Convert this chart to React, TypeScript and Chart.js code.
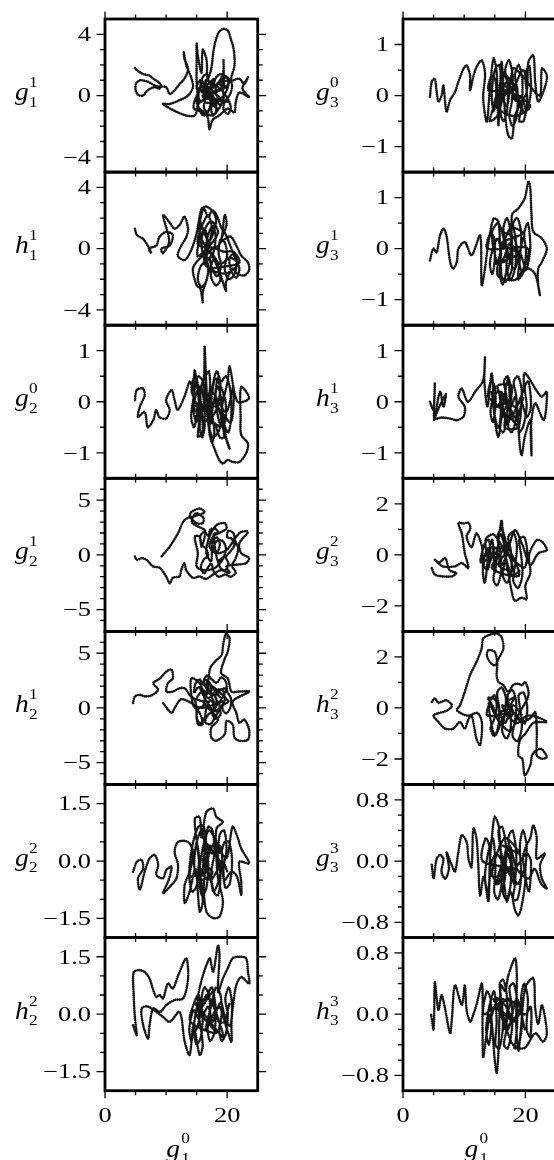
import { useEffect, useRef } from "react";
import { Chart, registerables } from "chart.js";
Chart.register(...registerables);

type P = [number, number];

// x: g_1^0 (shared axis), y: the coefficient of each panel
const g11: P[] = [[4.9,1.8],[5.4,1.6],[6.3,1.4],[7.3,1.3],[7.9,1.1],[8.7,0.9],[9.2,0.65],[8.9,0.45],[8.1,0.55],[7.0,0.35],[6.2,0.0],[5.4,0.05],[5.0,0.4],[5.1,0.8],[5.8,1.0],[7.0,0.9],[8.5,0.6],[10.0,0.55],[10.6,0.1],[11.4,0.35],[12.2,0.75],[13.0,1.1],[13.6,1.75],[13.0,2.4],[12.9,2.85],[13.3,2.0],[14.1,1.2],[14.4,0.55],[13.6,0.0],[12.2,-0.3],[10.6,-0.55],[9.5,-0.55],[11.4,-1.0],[13.3,-1.3],[14.7,-1.3],[15.2,-0.45],[15.0,0.9],[15.0,2.2],[15.0,3.4],[15.2,2.6],[15.8,1.5],[16.0,3.0],[16.6,2.4],[16.8,1.1],[17.4,1.75],[17.8,3.0],[18.5,4.05],[19.3,4.35],[20.1,4.25],[20.6,3.7],[21.0,3.15],[21.2,2.5],[21.2,1.95],[20.9,1.5],[20.4,0.9],[19.6,0.5],[19.4,2.3],[19.3,1.4],[18.0,0.6],[15.8,0.2],[17.9,1.1],[16.3,-0.4],[19.0,-0.3],[15.6,0.9],[18.4,-0.9],[17.0,0.0],[20.0,0.6],[15.2,-0.6],[17.6,-1.3],[19.5,0.1],[16.5,1.0],[18.0,-0.2],[20.3,-0.4],[16.0,-0.1],[17.5,0.5],[19.0,0.9],[21.0,1.0],[22.0,1.1],[22.8,0.75],[23.4,1.2],[22.5,0.45],[23.6,-0.1],[22.0,0.2],[21.4,-0.45],[21.2,-1.1],[20.1,-0.85],[18.7,-1.3],[17.6,-1.6],[17.1,-2.2],[16.8,-1.4],[16.0,-1.1],[14.5,-0.8],[15.5,0.3],[17.2,0.3]];
const g11Dense: P[] = [[15.0,0.5],[15.6,1.0],[16.3,0.8],[16.4,0.1],[15.8,-0.4],[15.3,-0.1],[15.6,0.5],[16.4,0.6],[17.1,0.2],[17.3,-0.6],[16.8,-1.1],[16.2,-0.8],[16.5,-0.2],[17.3,0.1],[18.0,-0.3],[18.2,-1.0],[17.7,-1.3],[17.4,-0.8],[18.0,-0.4],[18.9,-0.6],[19.4,-0.1],[19.1,0.6],[18.4,0.8],[18.1,0.2],[18.7,-0.2],[19.6,0.1],[20.2,0.7],[19.9,1.2],[19.2,1.0],[19.3,0.3],[20.1,-0.2],[20.6,-0.8],[20.1,-1.2],[19.4,-0.9],[19.6,-0.4],[20.5,0.1],[20.8,0.7],[20.3,1.1],[19.0,1.4],[18.2,1.2],[17.6,0.6],[17.0,0.9],[16.7,1.4],[16.0,1.2],[15.5,0.4],[15.0,-0.3],[15.4,-0.9],[16.1,-1.3],[16.9,-1.0],[17.5,-0.2],[16.9,0.4],[16.2,0.2]];

const h11: P[] = [[4.9,1.3],[5.2,0.9],[6.2,0.65],[7.0,0.2],[7.6,-0.3],[7.2,0.0],[8.4,0.2],[8.9,0.75],[10.0,1.1],[11.1,0.9],[10.6,0.2],[9.2,0.0],[9.5,-0.3],[10.5,0.5],[9.5,2.2],[10.6,1.7],[11.4,1.3],[12.3,1.6],[13.0,2.1],[13.6,1.3],[13.3,0.75],[12.5,0.2],[11.9,-0.45],[13.0,-0.75],[14.0,-0.2],[15.0,1.0],[15.8,2.6],[16.6,2.75],[17.7,2.4],[18.2,1.75],[17.0,0.5],[15.5,1.8],[16.2,-0.5],[17.5,1.2],[16.8,2.2],[15.2,0.3],[18.6,0.2],[19.6,2.2],[19.9,1.55],[19.0,0.5],[20.5,0.8],[21.5,0.2],[22.3,-0.45],[23.4,-0.9],[23.6,-1.4],[22.8,-1.75],[21.7,-1.65],[20.9,-1.3],[19.8,-2.2],[19.8,-2.75],[19.0,-1.8],[18.0,-0.6],[17.0,-1.5],[16.5,-2.2],[16.0,-2.85],[16.0,-3.5],[15.6,-2.6],[15.0,-2.4],[14.4,-1.3],[15.5,-0.65],[17.2,-0.2],[18.8,-1.0],[20.5,-0.6],[21.8,-1.0],[20.0,-1.6],[18.0,-1.5],[16.2,-0.9],[17.6,0.0],[19.5,-0.2],[21.0,-0.2],[22.0,-0.9],[19.0,-1.2],[16.8,-1.2],[15.8,0.6],[17.3,1.8],[18.5,1.0]];
const h11Dense: P[] = [[15.2,-0.5],[15.6,0.8],[16.4,1.2],[16.8,0.3],[16.3,-0.8],[15.6,-1.2],[15.2,-2.0],[15.8,-2.5],[16.6,-2.1],[16.9,-1.2],[16.4,-0.2],[16.9,0.9],[17.6,1.5],[18.1,0.9],[17.8,-0.2],[17.2,-0.6],[17.6,-1.4],[18.4,-1.8],[19.0,-1.1],[18.6,-0.3],[18.9,0.6],[19.6,0.4],[20.0,-0.4],[19.6,-1.3],[20.2,-2.0],[21.0,-1.8],[21.6,-1.0],[21.2,-0.3],[20.4,-0.6],[20.6,-1.4],[21.5,-1.9],[22.0,-1.3],[21.4,-0.7],[20.6,0.1],[19.8,0.9],[19.0,1.4],[18.4,2.1],[17.6,2.5],[16.9,2.1],[16.2,2.6],[15.6,1.9],[15.5,1.0],[16.1,0.4],[17.1,-0.2],[18.1,-0.9],[18.9,-2.0],[18.2,-2.4],[17.4,-1.9],[17.3,-0.9],[16.6,-0.5]];

const g20: P[] = [[4.9,0.03],[5.2,0.23],[6.2,0.26],[6.5,0.13],[5.7,-0.1],[5.4,-0.3],[6.5,-0.2],[7.0,-0.5],[7.9,-0.36],[8.4,-0.16],[8.9,-0.3],[10.0,-0.33],[10.6,-0.16],[10.0,0.03],[10.9,0.23],[11.4,0.03],[11.9,-0.16],[13.0,0.1],[13.9,0.4],[14.4,0.23],[14.7,0.62],[15.5,-0.23],[15.2,-0.69],[16.0,-0.56],[15.6,0.2],[16.2,0.5],[16.3,1.08],[16.5,0.6],[16.6,0.3],[17.1,-0.62],[17.9,-0.91],[18.7,-1.14],[19.3,-1.21],[20.1,-1.14],[20.9,-1.18],[22.0,-1.18],[23.1,-1.01],[23.4,-0.82],[22.3,-0.65],[22.2,-0.36],[22.3,0.29],[23.6,0.07],[21.7,0.0],[20.4,0.69],[20.1,0.42],[19.0,-0.3],[20.4,-0.92],[19.9,-0.75],[18.5,0.3],[17.2,-0.4],[18.0,0.45],[19.4,0.1],[16.8,-0.1],[17.6,-0.7],[18.8,-0.5],[15.8,-0.3],[17.4,0.2],[19.8,-0.2],[21.0,0.3],[20.6,-0.4],[18.2,-0.1],[14.6,-0.1],[16.4,-0.4]];
const g20Dense: P[] = [[14.2,0.2],[14.7,0.5],[15.3,0.3],[15.4,-0.1],[15.0,-0.4],[14.5,-0.2],[14.8,0.1],[15.6,0.3],[16.2,0.0],[16.3,-0.5],[15.9,-0.7],[15.5,-0.5],[15.9,-0.2],[16.7,-0.1],[17.2,0.3],[17.0,0.6],[16.5,0.5],[16.6,0.1],[17.4,-0.2],[17.9,-0.6],[17.5,-0.8],[17.1,-0.5],[17.6,-0.3],[18.4,-0.1],[18.9,0.3],[18.6,0.5],[18.1,0.2],[18.5,-0.3],[19.2,-0.5],[19.8,-0.3],[19.6,0.1],[19.1,0.0],[19.4,-0.4],[20.2,-0.6],[20.7,-0.2],[20.4,0.3],[19.8,0.5],[19.0,0.4],[18.3,0.6],[17.6,0.3],[16.9,-0.3],[16.2,-0.4],[15.4,0.0],[14.6,-0.5],[14.1,-0.3],[14.4,0.0],[15.2,0.5],[16.0,0.4],[16.6,-0.2],[17.8,0.0],[18.8,-0.2],[19.5,-0.7],[18.8,-0.7],[18.0,-0.4]];

const g21: P[] = [[4.9,-0.15],[5.2,-0.45],[6.0,-0.3],[6.8,-0.45],[7.3,-0.75],[7.9,-1.06],[9.0,-1.2],[10.0,-1.97],[10.6,-2.6],[11.1,-2.1],[12.2,-1.97],[12.5,-1.36],[13.0,-0.76],[13.3,-1.4],[14.4,-2.1],[15.5,-1.97],[16.5,-2.2],[17.7,-1.8],[19.0,-1.4],[20.4,-1.67],[19.9,-1.06],[21.5,-0.9],[23.1,-0.76],[23.6,-0.3],[22.3,0.15],[22.0,1.06],[23.4,2.1],[22.3,2.1],[21.5,1.67],[19.9,0.45],[18.2,0.15],[17.1,0.76],[17.7,1.67],[18.7,2.0],[19.9,2.4],[19.6,2.9],[18.2,2.7],[17.0,1.5],[16.6,0.15],[17.4,-0.6]];
const g21Dense: P[] = [[17.6,1.2],[18.3,1.6],[18.8,1.0],[18.4,0.3],[17.8,0.6],[18.2,1.2],[19.2,1.3],[19.8,0.6],[19.4,-0.2],[18.7,-0.5],[18.9,-1.2],[19.7,-1.4],[20.2,-0.8],[19.8,-0.2],[20.5,0.3],[21.2,0.9],[20.7,1.5],[20.0,1.6],[20.2,2.2],[21.0,2.0],[21.3,1.3],[21.8,0.6],[21.4,-0.3],[20.8,-1.0],[21.4,-1.6],[20.6,-2.0],[19.7,-1.8],[18.6,-2.0],[17.8,-1.5],[17.4,-0.8],[16.8,-1.2],[16.2,-1.7],[15.7,-1.1],[16.2,-0.4],[16.9,-0.1],[16.5,0.6],[15.8,0.9],[15.6,1.7],[16.3,2.1],[17.0,1.7],[17.2,2.3],[18.0,2.4],[18.6,2.0],[17.8,1.9]];
const g21Tail: P[] = [[18.6,-0.8],[19.5,-0.2],[18.0,-1.2],[16.0,-1.4],[15.0,-1.06],[15.2,0.15],[14.7,1.67],[15.5,1.67],[15.8,0.76],[16.4,2.2],[15.2,2.6],[14.2,3.0],[14.9,3.8],[16.1,3.4],[16.0,2.9],[15.0,2.9],[13.9,3.5],[14.1,3.9],[15.5,4.24],[16.3,3.9],[15.0,3.6],[13.05,3.2],[11.95,1.97],[10.6,0.76],[9.25,-0.15]];

const h21: P[] = [[4.6,0.45],[4.9,1.06],[5.7,1.2],[6.5,1.06],[7.6,1.15],[8.7,1.67],[7.9,2.27],[9.0,2.7],[10.05,3.33],[10.9,3.5],[11.1,2.7],[10.3,2.27],[10.05,1.5],[11.1,1.5],[12.2,1.8],[13.05,1.8],[13.85,1.2],[14.7,0.76],[14.95,-0.15],[15.2,-1.5],[16.0,-1.5],[15.5,-0.45],[14.4,0.3],[14.1,2.7],[15.5,2.27],[16.5,1.0],[17.2,3.6],[18.0,4.24],[19.1,4.85],[19.3,5.6],[19.6,6.5],[19.8,6.8],[20.4,6.4],[20.1,5.15],[19.6,4.5],[19.0,3.2],[20.1,2.7],[20.7,1.5],[22.0,1.5],[23.6,1.5],[20.9,0.6],[21.5,-0.45],[22.0,-1.36],[22.8,-1.06],[23.6,-2.0],[23.4,-2.9],[22.0,-3.0],[21.2,-2.7],[20.9,-1.5],[19.9,-1.2],[19.6,-2.4],[18.2,-3.0],[17.4,-2.7],[17.4,-1.8],[18.5,-1.06],[16.85,0.0],[16.0,0.6]];
const h21Dense: P[] = [[15.0,0.8],[15.7,1.4],[16.3,1.0],[16.1,0.2],[15.4,0.0],[15.0,-0.9],[15.6,-1.4],[16.3,-0.9],[16.6,0.0],[17.2,0.7],[17.8,0.3],[17.6,-0.6],[18.2,-1.0],[18.9,-0.6],[18.7,0.3],[18.1,1.0],[18.6,1.7],[19.4,1.5],[19.6,0.7],[19.2,0.0],[19.8,-0.5],[20.5,0.0],[20.6,0.9],[20.0,1.5],[19.8,2.4],[19.0,2.8],[18.3,2.3],[17.5,2.6],[16.8,3.0],[16.2,2.5],[16.6,1.8],[17.4,1.5],[17.1,2.2],[16.2,2.1],[15.5,2.6],[14.8,2.2],[14.6,1.4],[15.3,1.9],[16.0,1.5],[16.9,0.9],[17.8,1.2],[18.3,0.4],[17.7,-0.3],[16.9,-0.6],[16.4,-1.3],[17.2,-1.5],[17.9,-1.0],[18.6,-0.3],[19.4,0.3],[20.2,0.6]];
const h21Tail: P[] = [[17.5,2.0],[18.8,1.0],[16.6,2.6],[18.2,0.3],[19.8,1.8],[17.2,1.3],[15.6,1.8],[17.9,-0.3],[19.5,0.6],[15.8,0.0],[14.0,0.5],[12.5,0.8],[11.5,0.1],[10.9,-0.45],[9.5,0.45]];

const g22: P[] = [[4.6,-0.28],[5.2,-0.02],[6.0,0.03],[6.25,-0.19],[5.4,-0.45],[5.7,-0.75],[6.5,-0.28],[7.3,0.07],[8.15,0.16],[8.7,-0.1],[8.4,-0.36],[9.5,-0.45],[10.05,-0.23],[10.9,-0.15],[10.4,-0.5],[9.5,-0.84],[10.9,-0.62],[11.7,-0.45],[11.95,-0.1],[11.4,0.24],[11.95,0.5],[13.6,0.5],[14.4,0.24],[13.8,-0.3],[13.05,-0.62],[13.05,-1.1],[13.85,-0.8],[14.8,-0.2],[15.5,-1.32],[16.0,-1.06],[15.2,0.3],[14.7,1.11],[15.5,1.15],[15.8,0.6],[16.6,1.28],[17.7,1.37],[18.25,1.15],[19.3,1.02],[18.25,0.85],[18.25,0.07],[18.5,-0.45],[19.3,-1.06],[18.75,-1.45],[17.7,-1.49],[16.6,-1.32],[16.2,-0.6],[17.2,0.4],[16.0,0.0],[17.6,-0.3],[15.4,-0.5],[17.0,0.8],[19.8,0.07],[20.9,0.9],[21.75,0.6],[22.3,0.33],[23.6,-0.06],[22.0,-0.02],[22.3,-0.54],[22.3,-0.88],[21.6,-0.4],[20.7,-0.28],[19.5,-0.5],[18.9,0.4],[17.5,0.2],[16.4,0.5],[19.0,-0.1],[17.8,-0.8],[16.8,-0.3]];
const g22Dense: P[] = [[14.0,-0.4],[14.5,0.1],[15.1,0.4],[15.4,0.0],[15.0,-0.4],[14.6,-0.1],[15.0,0.5],[15.8,0.8],[16.3,0.4],[16.0,-0.2],[15.5,-0.6],[15.9,-0.9],[16.6,-0.7],[16.9,-0.1],[16.5,0.5],[16.9,0.9],[17.6,0.8],[17.9,0.2],[17.4,-0.3],[17.8,-0.8],[18.5,-0.9],[18.9,-0.4],[18.5,0.1],[18.8,0.7],[19.5,0.8],[19.9,0.3],[19.4,-0.2],[19.7,-0.7],[20.4,-0.6],[20.8,0.0],[20.3,0.5],[19.6,0.5],[18.9,0.2],[18.1,0.5],[17.3,0.3],[16.6,0.1],[16.2,-0.4],[15.6,-0.2],[14.9,-0.7],[14.2,-0.8],[13.8,-0.3],[14.3,0.4],[15.3,0.9],[16.2,0.9],[17.2,-0.5],[18.2,-0.3],[19.2,0.0],[20.1,-0.3]];

const h22: P[] = [[4.6,-0.29],[5.2,-0.55],[4.9,-0.1],[4.7,0.5],[4.7,1.1],[5.7,1.15],[6.5,1.1],[7.3,0.93],[7.9,0.63],[8.4,0.45],[8.95,0.5],[9.5,0.41],[10.3,0.8],[11.1,0.67],[12.0,1.02],[13.3,1.46],[13.6,0.93],[12.8,0.41],[11.4,0.37],[10.05,0.24],[9.0,0.06],[7.9,0.15],[7.3,-0.29],[7.05,-0.64],[6.25,-0.29],[6.0,0.15],[7.0,0.2],[9.5,-0.07],[10.6,-0.2],[12.2,0.06],[13.05,-0.72],[13.85,-1.07],[14.5,-0.3],[15.5,-1.07],[16.0,-0.81],[15.2,0.4],[17.1,1.46],[17.7,1.1],[18.5,1.8],[18.75,1.54],[18.5,0.58],[19.3,0.93],[20.1,1.2],[20.9,1.46],[22.0,1.5],[23.1,1.46],[23.4,1.1],[23.6,0.8],[22.3,0.97],[21.5,0.76],[20.9,0.15],[20.7,-0.29],[20.7,-0.72],[19.8,-0.3],[18.6,0.2],[16.5,-0.4],[17.8,0.6],[15.5,0.1],[16.8,0.5],[19.4,-0.6],[17.2,-0.2],[14.8,0.3],[16.2,-0.1],[18.2,-0.5]];
const h22Dense: P[] = [[14.0,-0.2],[14.6,0.3],[15.3,0.5],[15.6,0.1],[15.2,-0.3],[14.7,-0.5],[15.0,-0.8],[15.7,-0.6],[16.0,-0.1],[15.8,0.4],[16.3,0.7],[17.0,0.5],[17.2,0.0],[16.8,-0.4],[17.2,-0.7],[17.9,-0.5],[18.1,0.0],[17.7,0.4],[18.2,0.7],[18.9,0.5],[19.1,0.0],[18.7,-0.4],[19.1,-0.7],[19.8,-0.5],[20.1,0.0],[19.7,0.4],[20.3,0.7],[20.8,0.2],[20.5,-0.3],[19.8,-0.2],[19.0,0.3],[18.3,0.1],[17.6,-0.2],[16.9,0.2],[16.1,0.0],[15.3,-0.1],[14.5,0.1],[13.8,-0.4],[14.2,-0.7],[15.1,0.2],[16.4,0.4],[17.5,0.7],[18.6,-0.2],[19.5,-0.2],[20.4,0.3]];

const g30: P[] = [[4.4,-0.03],[4.7,0.27],[5.2,0.33],[5.5,0.07],[5.8,-0.12],[6.3,0.0],[6.6,0.2],[7.1,-0.32],[7.7,-0.09],[8.5,0.07],[9.05,0.27],[9.9,0.53],[10.4,0.59],[10.95,0.4],[10.95,0.1],[11.8,0.5],[12.85,0.69],[13.4,0.43],[13.1,-0.06],[13.7,-0.52],[14.2,0.14],[14.8,0.73],[15.3,0.46],[15.6,-0.58],[16.1,0.66],[16.7,-0.39],[17.2,-0.78],[17.8,-0.84],[18.3,-0.39],[19.1,-0.19],[20.2,0.07],[20.5,0.66],[21.3,0.79],[21.6,0.27],[22.1,-0.12],[23.2,0.17],[23.5,0.4],[22.7,0.53],[22.3,0.0],[19.4,0.4],[18.0,0.53],[17.0,-0.2],[15.8,0.2],[18.6,0.1],[16.4,0.45],[19.6,-0.3],[17.4,0.3],[15.2,-0.2],[18.2,-0.4],[20.8,-0.2],[16.8,0.1]];
const g30Dense: P[] = [[14.0,0.1],[14.5,0.4],[15.1,0.3],[15.2,-0.1],[14.8,-0.3],[14.5,0.0],[15.0,0.5],[15.7,0.6],[16.1,0.2],[15.9,-0.3],[16.4,-0.5],[17.0,-0.3],[17.1,0.2],[16.7,0.5],[17.3,0.7],[17.9,0.4],[17.8,-0.1],[17.4,-0.4],[17.9,-0.6],[18.6,-0.4],[18.7,0.1],[18.3,0.4],[18.9,0.6],[19.5,0.3],[19.4,-0.2],[19.0,-0.5],[19.7,-0.5],[20.3,-0.1],[20.0,0.4],[20.6,0.6],[20.9,0.1],[20.2,-0.3],[19.3,0.0],[18.4,-0.1],[17.5,0.1],[16.5,0.0],[15.6,0.1],[14.6,-0.3],[14.2,-0.5],[15.4,-0.4],[16.8,0.1],[18.2,0.2],[19.6,0.5],[20.5,0.2]];

const g31: P[] = [[4.4,-0.23],[4.95,0.0],[5.5,-0.07],[6.05,0.26],[6.6,0.39],[7.1,0.26],[7.7,-0.26],[8.2,-0.39],[8.8,-0.26],[9.05,0.0],[10.1,0.13],[11.2,-0.13],[12.6,0.26],[12.85,-0.72],[13.4,-0.39],[13.9,0.07],[14.8,0.59],[15.6,0.53],[16.1,-0.53],[16.7,-0.66],[17.8,-0.39],[17.8,0.66],[18.85,0.79],[19.9,0.99],[20.5,1.32],[20.8,1.18],[21.0,0.66],[21.3,0.33],[22.7,0.2],[23.5,0.0],[22.7,-0.26],[22.1,-0.39],[22.1,-0.72],[22.4,-0.92],[21.6,-0.5],[20.5,-0.39],[19.4,-0.46],[18.2,0.2],[16.4,0.3],[17.2,-0.2],[15.0,-0.3],[18.8,-0.1],[16.0,0.1],[19.6,0.3],[17.5,0.4],[15.4,-0.5],[18.5,-0.6],[20.4,0.0]];
const g31Dense: P[] = [[13.8,0.0],[14.3,0.3],[14.9,0.2],[15.0,-0.2],[14.6,-0.5],[14.2,-0.3],[14.7,0.0],[15.5,0.2],[16.0,-0.1],[15.8,-0.5],[16.3,-0.7],[16.9,-0.4],[16.8,0.1],[16.4,0.4],[17.0,0.6],[17.6,0.3],[17.5,-0.2],[17.1,-0.5],[17.7,-0.6],[18.4,-0.3],[18.4,0.2],[18.0,0.5],[18.7,0.6],[19.3,0.3],[19.1,-0.2],[18.8,-0.6],[19.5,-0.5],[20.1,-0.1],[19.8,0.3],[20.4,0.5],[20.8,0.0],[20.1,-0.4],[19.2,-0.1],[18.3,0.0],[17.4,0.1],[16.4,-0.2],[15.5,-0.3],[14.5,0.3],[15.6,0.5],[16.9,0.0],[18.2,-0.4],[19.6,0.2]];

const h31: P[] = [[4.4,0.0],[5.0,-0.16],[5.2,0.36],[5.1,-0.36],[6.05,0.2],[6.6,-0.1],[7.0,0.15],[5.2,-0.33],[6.3,-0.31],[7.7,-0.33],[8.8,-0.36],[9.9,-0.29],[10.1,-0.1],[9.05,0.1],[9.6,0.26],[10.6,0.0],[11.8,0.2],[13.1,0.42],[13.4,0.88],[13.3,0.4],[13.8,-0.1],[14.5,0.56],[15.0,-0.36],[15.6,-0.69],[16.2,-0.2],[17.2,0.46],[17.6,-0.1],[18.4,0.1],[19.1,-0.88],[19.4,-1.05],[19.9,-0.69],[20.8,-0.36],[21.0,-1.05],[20.9,-0.5],[21.6,-0.03],[23.0,-0.36],[23.5,0.2],[22.6,0.1],[19.9,0.56],[19.6,0.2],[17.0,-0.4],[16.0,0.2],[18.2,-0.3],[15.4,0.3],[17.8,0.3],[16.6,-0.5],[18.8,-0.5],[14.8,0.0]];
const h31Dense: P[] = [[13.9,0.1],[14.4,0.4],[15.0,0.3],[15.1,-0.1],[14.7,-0.4],[14.3,-0.2],[14.8,0.1],[15.6,0.2],[16.0,-0.2],[15.8,-0.5],[16.4,-0.6],[17.0,-0.3],[16.9,0.1],[16.5,0.4],[17.1,0.5],[17.7,0.2],[17.5,-0.2],[17.2,-0.5],[17.8,-0.6],[18.5,-0.3],[18.5,0.1],[18.1,0.4],[18.8,0.5],[19.4,0.2],[19.2,-0.3],[18.9,-0.6],[19.6,-0.5],[20.2,-0.1],[19.9,0.3],[20.5,0.4],[20.9,-0.1],[20.2,-0.3],[19.3,0.0],[18.3,-0.1],[17.4,0.0],[16.4,0.1],[15.4,-0.1],[14.5,0.2],[15.5,-0.5],[16.9,-0.1],[18.3,-0.4],[19.7,0.1]];

const g32: P[] = [[4.7,-0.52],[5.2,-0.77],[6.3,-0.84],[8.0,-0.84],[8.7,-0.71],[7.6,-0.6],[6.9,-0.13],[5.9,-0.3],[5.2,-0.19],[6.5,-0.45],[8.5,-0.45],[9.6,-0.32],[10.7,-0.52],[10.1,0.06],[9.6,0.84],[9.05,1.25],[9.9,1.23],[10.7,1.25],[11.0,1.03],[10.4,0.71],[11.2,0.3],[12.0,0.84],[12.9,0.32],[13.1,-0.84],[13.4,-1.1],[14.0,0.1],[14.6,0.6],[15.0,-0.71],[15.5,0.3],[16.1,1.35],[16.4,0.6],[16.8,-0.2],[17.2,-0.71],[17.8,-1.48],[18.3,-1.8],[19.4,-1.68],[20.2,-1.74],[20.0,-1.2],[20.8,-0.71],[20.6,0.0],[21.85,0.58],[22.7,0.52],[23.5,0.19],[22.1,0.06],[20.8,-0.4],[19.5,0.4],[18.3,0.97],[17.1,0.2],[15.6,-0.4],[18.0,-0.6],[16.0,0.8],[19.0,-0.8],[14.5,-0.5],[17.5,0.5]];
const g32Dense: P[] = [[12.8,-0.3],[13.3,0.4],[14.0,0.6],[14.3,0.0],[13.8,-0.6],[13.2,-0.4],[13.7,0.2],[14.6,0.3],[15.1,-0.3],[14.8,-1.0],[15.4,-1.2],[16.0,-0.7],[15.9,0.1],[15.4,0.7],[16.1,1.0],[16.8,0.5],[16.7,-0.2],[16.3,-0.8],[17.0,-1.1],[17.7,-0.6],[17.6,0.2],[17.2,0.7],[18.0,0.9],[18.6,0.4],[18.4,-0.3],[18.0,-1.0],[18.8,-1.3],[19.5,-0.8],[19.3,0.0],[19.0,0.6],[19.8,0.7],[20.3,0.1],[19.9,-0.5],[19.0,-0.4],[18.0,-0.2],[17.1,0.0],[16.1,-0.4],[15.1,0.3],[14.1,-0.3],[13.5,0.6],[14.8,0.8],[16.4,0.2],[17.8,-0.8],[19.2,-0.6]];

const h32: P[] = [[4.7,0.24],[5.2,0.37],[5.8,0.2],[6.3,0.24],[7.1,0.3],[8.0,0.1],[7.2,-0.1],[5.0,-0.29],[5.8,-0.55],[6.9,-0.81],[8.2,-0.81],[9.3,-0.55],[10.1,-0.81],[10.6,-0.5],[11.2,-0.29],[12.0,-1.2],[12.6,-1.46],[12.9,-0.6],[12.2,-0.2],[10.5,-0.3],[8.8,-0.09],[9.3,0.1],[10.1,0.63],[10.95,1.28],[12.0,1.8],[12.85,2.33],[13.1,2.72],[13.95,2.85],[15.3,2.92],[16.1,2.78],[16.4,2.33],[15.6,1.93],[15.0,1.67],[14.2,1.8],[13.7,2.07],[13.95,2.26],[15.0,2.2],[15.4,1.7],[15.3,1.28],[15.6,1.02],[16.4,0.89],[17.2,0.63],[18.0,0.9],[18.85,0.95],[19.4,0.89],[20.0,1.02],[20.5,0.5],[19.0,-0.2],[17.5,-0.9],[15.6,-0.5],[14.0,0.2],[15.0,-1.07],[16.5,-0.3],[18.2,0.4],[17.0,0.2],[19.5,-0.5],[20.8,-0.4],[21.6,-0.16],[21.85,-0.81],[21.85,-1.46],[21.85,-1.86],[22.7,-1.99],[23.5,-1.92],[22.5,-1.6],[21.2,-1.8],[20.8,-2.25],[19.9,-2.64],[19.5,-2.0],[18.85,-1.86],[19.1,-1.27],[20.0,-1.0],[21.2,-0.6],[22.1,-0.55],[23.5,-0.55],[22.4,-0.4],[20.3,-0.3],[18.6,-0.6],[17.2,-0.3],[16.2,0.1],[18.0,-0.1]];
const h32Dense: P[] = [[13.8,-0.3],[14.3,0.3],[15.0,0.5],[15.3,0.0],[14.8,-0.5],[14.3,-0.8],[14.9,-1.1],[15.6,-0.7],[15.7,0.0],[15.4,0.6],[16.1,0.8],[16.8,0.4],[16.6,-0.3],[16.2,-0.9],[16.9,-1.2],[17.6,-0.8],[17.5,-0.1],[17.1,0.5],[17.9,0.7],[18.5,0.2],[18.3,-0.5],[17.9,-1.1],[18.7,-1.3],[19.4,-0.8],[19.2,-0.1],[18.9,0.5],[19.7,0.6],[20.3,0.0],[19.9,-0.6],[19.1,-0.5],[18.2,-0.2],[17.3,-0.4],[16.4,-0.1],[15.5,-0.3],[14.6,0.1],[13.9,0.4],[15.2,0.3],[16.6,-0.6],[18.0,0.1],[19.5,-0.3]];

const g33: P[] = [[4.7,-0.05],[5.0,-0.23],[5.5,0.03],[6.05,0.08],[6.6,0.03],[6.3,-0.14],[6.9,-0.23],[7.5,-0.1],[7.1,0.12],[7.95,-0.05],[8.5,-0.14],[9.05,0.12],[9.6,0.34],[10.4,0.25],[10.7,0.03],[11.2,-0.08],[11.5,0.43],[12.0,0.3],[12.3,-0.05],[12.6,-0.45],[13.2,-0.2],[13.95,-0.53],[14.2,0.0],[14.8,0.52],[15.0,0.58],[15.6,0.47],[16.0,0.1],[16.7,-0.4],[16.95,-0.53],[17.6,-0.4],[18.3,-0.64],[18.85,-0.71],[19.4,-0.58],[20.0,-0.23],[19.6,0.05],[20.2,0.21],[20.8,0.3],[21.3,0.47],[21.85,0.3],[21.85,0.03],[23.2,0.1],[22.4,-0.05],[22.7,-0.23],[23.5,-0.36],[22.6,-0.3],[21.5,-0.1],[20.5,-0.23],[18.6,-0.1],[17.4,0.2],[16.4,-0.15],[15.2,-0.3],[17.0,0.1],[18.2,-0.3],[15.8,0.2],[19.0,0.1],[16.6,0.3],[14.6,-0.2],[17.8,-0.1]];
const g33Dense: P[] = [[13.0,0.0],[13.5,0.3],[14.1,0.2],[14.2,-0.2],[13.8,-0.4],[13.4,-0.2],[13.9,0.1],[14.7,0.3],[15.1,-0.1],[14.9,-0.4],[15.5,-0.5],[16.1,-0.3],[16.0,0.1],[15.6,0.4],[16.2,0.45],[16.8,0.2],[16.7,-0.2],[16.3,-0.4],[16.9,-0.5],[17.6,-0.3],[17.6,0.1],[17.2,0.3],[17.9,0.4],[18.5,0.1],[18.3,-0.3],[18.0,-0.5],[18.7,-0.5],[19.3,-0.2],[19.1,0.2],[19.6,0.4],[20.2,0.2],[20.0,-0.2],[20.6,-0.4],[20.9,0.0],[20.2,0.1],[19.2,0.0],[18.2,-0.1],[17.2,-0.1],[16.2,0.0],[15.2,0.1],[14.3,-0.1],[15.6,-0.3],[17.1,0.2],[18.6,-0.3],[19.9,-0.1]];

const h33: P[] = [[4.6,-0.01],[5.0,-0.2],[5.2,0.42],[5.5,0.21],[5.8,0.05],[6.3,0.25],[6.8,0.1],[7.7,-0.25],[8.0,-0.05],[8.5,0.38],[9.6,0.12],[10.1,0.38],[10.4,0.05],[11.0,-0.1],[11.5,0.0],[12.0,0.12],[12.9,0.4],[13.0,-0.2],[13.1,-0.57],[13.6,-0.3],[14.3,0.0],[15.0,-0.61],[15.3,-0.77],[15.6,-0.5],[16.0,0.38],[16.7,0.3],[17.2,0.5],[18.3,0.73],[18.6,0.5],[18.5,-0.15],[18.85,-0.48],[19.2,-0.25],[20.0,0.35],[21.3,0.47],[21.6,0.08],[22.1,-0.13],[22.7,0.12],[23.5,-0.25],[22.9,-0.36],[21.6,-0.25],[19.9,-0.44],[18.2,-0.42],[17.0,-0.22],[15.8,0.1],[17.6,0.2],[16.4,-0.2],[19.2,0.1],[14.8,0.2],[17.9,-0.1],[16.2,0.15]];
const h33Dense: P[] = [[13.2,0.0],[13.7,0.3],[14.3,0.2],[14.4,-0.2],[14.0,-0.4],[13.6,-0.2],[14.1,0.1],[14.9,0.3],[15.3,-0.1],[15.1,-0.4],[15.7,-0.45],[16.3,-0.2],[16.2,0.1],[15.8,0.4],[16.4,0.45],[17.0,0.2],[16.9,-0.2],[16.5,-0.4],[17.1,-0.45],[17.8,-0.2],[17.8,0.1],[17.4,0.35],[18.1,0.4],[18.7,0.1],[18.5,-0.3],[18.2,-0.45],[18.9,-0.4],[19.5,-0.1],[19.3,0.2],[19.8,0.4],[20.4,0.2],[20.2,-0.2],[20.8,-0.3],[20.9,0.1],[20.1,0.0],[19.1,0.0],[18.1,-0.1],[17.1,0.0],[16.1,0.0],[15.1,0.1],[14.2,-0.1],[15.6,0.2],[17.1,-0.2],[18.6,0.2],[19.9,-0.2]];

const xMajorTicks = [0, 20];
const xMinorTicks = [5, 10, 15];
const xLabels = ["0", "20"];

interface PanelDef {
  data: P[];
  letter: string;
  sub: string;
  sup: string;
  min: number;
  max: number;
  step: number;
  labeled: number[];
  dec: number;
}

const mk = (data: P[], letter: string, sub: string, sup: string, min: number, max: number, step: number, labeled: number[], dec: number): PanelDef =>
  ({ data, letter, sub, sup, min, max, step, labeled, dec });

const leftPanels: PanelDef[] = [
  mk([...g11, ...g11Dense], "g", "1", "1", -5, 5, 1, [-4, 0, 4], 0),
  mk([...h11, ...h11Dense], "h", "1", "1", -5, 5, 1, [-4, 0, 4], 0),
  mk([...g20, ...g20Dense], "g", "2", "0", -1.5, 1.5, 0.5, [-1, 0, 1], 0),
  mk([...g21, ...g21Dense, ...g21Tail], "g", "2", "1", -7, 7, 1, [-5, 0, 5], 0),
  mk([...h21, ...h21Dense, ...h21Tail], "h", "2", "1", -7, 7, 1, [-5, 0, 5], 0),
  mk([...g22, ...g22Dense], "g", "2", "2", -2, 2, 0.5, [-1.5, 0, 1.5], 1),
  mk([...h22, ...h22Dense], "h", "2", "2", -2, 2, 0.5, [-1.5, 0, 1.5], 1),
];
const rightPanels: PanelDef[] = [
  mk([...g30, ...g30Dense], "g", "3", "0", -1.5, 1.5, 0.5, [-1, 0, 1], 0),
  mk([...g31, ...g31Dense], "g", "3", "1", -1.5, 1.5, 0.5, [-1, 0, 1], 0),
  mk([...h31, ...h31Dense], "h", "3", "1", -1.5, 1.5, 0.5, [-1, 0, 1], 0),
  mk([...g32, ...g32Dense], "g", "3", "2", -3, 3, 1, [-2, 0, 2], 0),
  mk([...h32, ...h32Dense], "h", "3", "2", -3, 3, 1, [-2, 0, 2], 0),
  mk([...g33, ...g33Dense], "g", "3", "3", -1, 1, 0.2, [-0.8, 0, 0.8], 1),
  mk([...h33, ...h33Dense], "h", "3", "3", -1, 1, 0.2, [-0.8, 0, 0.8], 1),
];

const ROW0 = 19;
const ROWH = 153.1;
const SERIF = '"Liberation Serif", Tinos, "Nimbus Roman", "Times New Roman", Times, serif';
const DIGIT_ADV = 13.2; // target advance of one digit, px

function fmt(v: number, dec: number) {
  const s = Math.abs(v).toFixed(dec);
  return (v < -1e-9 ? "\u2212" : "") + s;
}

function stretchedText(ctx: CanvasRenderingContext2D, text: string, x: number, y: number, align: CanvasTextAlign, sx: number) {
  ctx.save();
  ctx.translate(x, y);
  ctx.scale(sx, 1);
  ctx.textAlign = align;
  ctx.textBaseline = "alphabetic";
  ctx.fillText(text, 0, 0);
  ctx.restore();
}

function PanelChart({ def, col, row, last }: { def: PanelDef; col: number; row: number; last: boolean }) {
  const ref = useRef<HTMLCanvasElement | null>(null);
  const plotTop = ROW0 + ROWH * row;
  const canvasTop = Math.floor(plotTop) - 14;
  const canvasLeft = col === 0 ? 0 : 277;
  const canvasW = col === 0 ? 277 : 290;
  const canvasH = last ? 1160 - canvasTop : Math.ceil(ROWH) + 28;
  const chartLeft = col === 0 ? 105 : 126;
  const chartRight = col === 0 ? 257.7 : 279;
  const padTop = plotTop - canvasTop;
  const padBottom = canvasH - padTop - ROWH;

  useEffect(() => {
    if (!ref.current) return;
    const frame = {
      id: "frame",
      afterDraw(chart: any) {
        const ctx: CanvasRenderingContext2D = chart.ctx;
        const { left, right, top, bottom } = chart.chartArea;
        const xs = chart.scales.x;
        const ys = chart.scales.y;
        ctx.save();
        ctx.strokeStyle = "#000";
        ctx.fillStyle = "#000";
        ctx.lineWidth = 1.3;
        ctx.beginPath();
        const xt = [...xMajorTicks.map((v) => [v, 7.5]), ...xMinorTicks.map((v) => [v, 4.5])];
        for (const [v, len] of xt) {
          const px = xs.getPixelForValue(v);
          ctx.moveTo(px, top);
          ctx.lineTo(px, top - len);
          ctx.moveTo(px, bottom);
          ctx.lineTo(px, bottom + len);
        }
        const n = Math.round((def.max - def.min) / def.step);
        for (let k = 1; k < n; k++) {
          const v = def.min + k * def.step;
          const major = def.labeled.some((l) => Math.abs(l - v) < 1e-6);
          const len = major ? 8.5 : 5;
          const py = ys.getPixelForValue(v);
          ctx.moveTo(left, py);
          ctx.lineTo(left - len, py);
          ctx.moveTo(right, py);
          ctx.lineTo(right + len, py);
        }
        ctx.stroke();
        ctx.lineWidth = 2.8;
        ctx.strokeRect(left, top, right - left, bottom - top);

        ctx.font = `20px ${SERIF}`;
        const w0 = ctx.measureText("0").width || 10;
        const sx = Math.max(1, Math.min(1.45, DIGIT_ADV / w0));
        for (const v of def.labeled) {
          const py = ys.getPixelForValue(v);
          stretchedText(ctx, fmt(v, def.dec), left - 14, py + 6.8, "right", sx);
        }
        const mid = (top + bottom) / 2;
        const gx = left - (col === 0 ? 90 : 87);
        ctx.font = `italic 25px ${SERIF}`;
        stretchedText(ctx, def.letter, gx, mid + 4.5, "left", 1.1);
        ctx.font = `15px ${SERIF}`;
        stretchedText(ctx, def.sup, gx + 14, mid - 8.5, "left", 1.15);
        stretchedText(ctx, def.sub, gx + 14, mid + 11, "left", 1.15);

        if (last) {
          ctx.font = `20px ${SERIF}`;
          xMajorTicks.forEach((v, i) => {
            stretchedText(ctx, xLabels[i], xs.getPixelForValue(v), bottom + 31, "center", sx);
          });
          const cx = (left + right) / 2 - 15;
          ctx.font = `italic 25px ${SERIF}`;
          stretchedText(ctx, "g", cx, bottom + 66, "left", 1.1);
          ctx.font = `15px ${SERIF}`;
          stretchedText(ctx, "0", cx + 15, bottom + 52, "left", 1.15);
          stretchedText(ctx, "1", cx + 15, bottom + 72, "left", 1.15);
        }
        ctx.restore();
      },
    };

    const chart = new Chart(ref.current, {
      type: "scatter",
      data: {
        datasets: [
          {
            data: def.data.map(([x, y]) => ({ x, y })),
            showLine: true,
            borderColor: "#161616",
            borderWidth: 2.6,
            borderDash: [0.01, 2.1],
            borderCapStyle: "round",
            borderJoinStyle: "round",
            pointRadius: 0,
            tension: 0.3,
          } as any,
        ],
      },
      options: {
        responsive: false,
        animation: false,
        events: [],
        layout: {
          padding: { left: chartLeft, right: canvasW - chartRight, top: padTop, bottom: padBottom },
        },
        scales: {
          x: { type: "linear", min: 0, max: 25, display: false },
          y: { type: "linear", min: def.min, max: def.max, display: false },
        },
        plugins: { legend: { display: false }, tooltip: { enabled: false } },
      },
      plugins: [frame as any],
    });
    let alive = true;
    const fonts = (document as any).fonts;
    if (fonts && fonts.load) {
      Promise.all([
        fonts.load(`20px "Liberation Serif"`),
        fonts.load(`italic 25px "Liberation Serif"`),
      ])
        .then(() => { if (alive) chart.draw(); })
        .catch(() => {});
    }
    return () => { alive = false; chart.destroy(); };
  }, []);

  return (
    <canvas
      ref={ref}
      width={canvasW}
      height={canvasH}
      style={{ position: "absolute", left: canvasLeft, top: canvasTop, width: canvasW, height: canvasH }}
    />
  );
}

export default function App() {
  return (
    <div style={{ position: "absolute", left: 0, top: 0, width: 554, height: 1160, overflow: "hidden", background: "#fff" }}>
      {leftPanels.map((d, i) => (
        <PanelChart key={"l" + i} def={d} col={0} row={i} last={i === leftPanels.length - 1} />
      ))}
      {rightPanels.map((d, i) => (
        <PanelChart key={"r" + i} def={d} col={1} row={i} last={i === rightPanels.length - 1} />
      ))}
    </div>
  );
}
